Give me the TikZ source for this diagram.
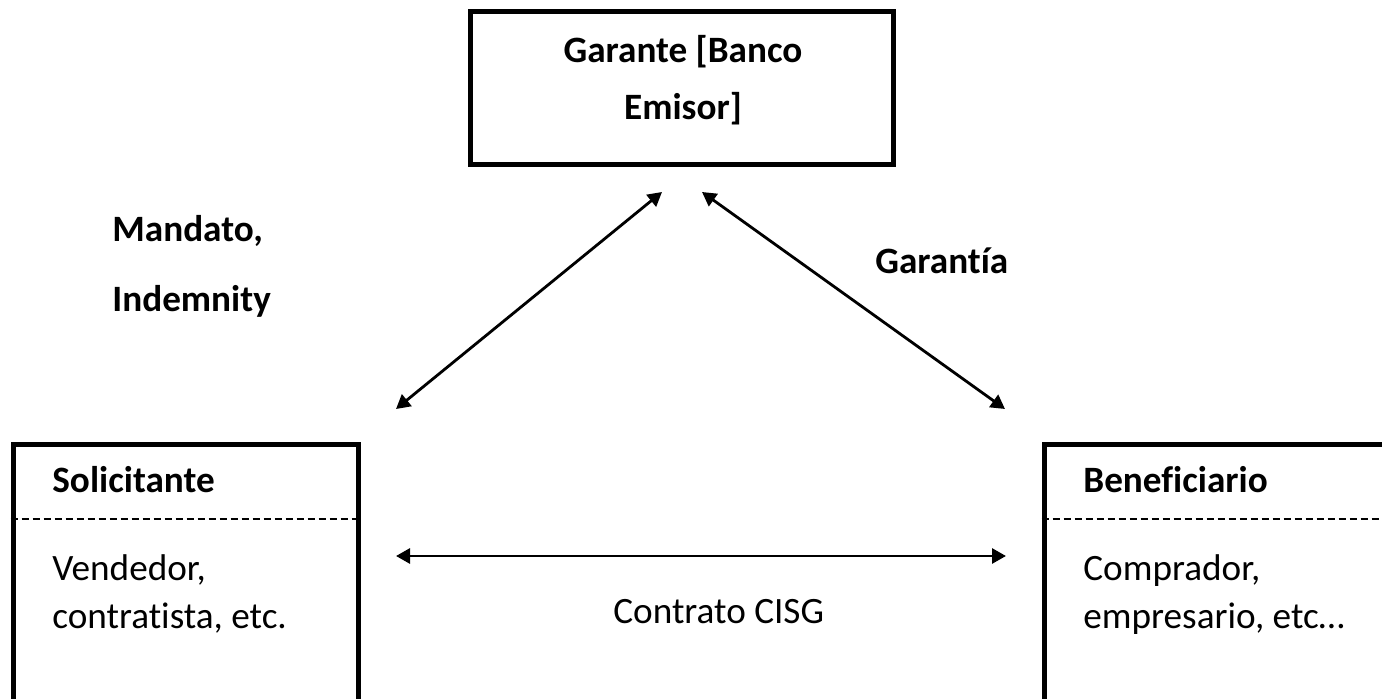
\documentclass[tikz,border=0pt]{standalone}
\usepackage{fontspec}
\setmainfont[Ligatures=NoCommon]{Carlito}
\usetikzlibrary{arrows.meta}

\tikzset{
  box/.style={draw, line width=2.5pt, inner sep=0pt},
  divider/.style={dash pattern=on 3.5pt off 2pt, line width=0.6pt},
  link/.style={{Triangle[length=7pt,width=7.5pt]}-{Triangle[length=7pt,width=7.5pt]}, line width=1.4pt},
  title/.style={font=\fontsize{18.6}{22}\selectfont\bfseries, inner sep=0pt, anchor=base west},
  plain/.style={font=\fontsize{18.6}{22}\selectfont, inner sep=0pt, anchor=base west},
}

\begin{document}
\begin{tikzpicture}[x=0.5pt, y=-0.5pt]
            \useasboundingbox (0,0) rectangle (1382,699);
            \clip (0,0) rectangle (1382,699);

            % the three parties
            \node[box, minimum width=211.5pt, minimum height=76.5pt] (garante) at (681.5,88.5) {};
                \node[title, anchor=base] (garanteA) at (683,63) {Garante [Banco};
                \node[title, anchor=base] (garanteB) at (683,120) {Emisor]};
            \node[box, minimum width=172.5pt, minimum height=157.5pt] (solic) at (185.5,602.5) {};
                \node[title] (solicT) at (52,493) {Solicitante};
                \node[plain] (solicA) at (52,581) {Vendedor,};
                \node[plain] (solicB) at (52,629) {contratista, etc.};
            \node[box, minimum width=193pt, minimum height=157.5pt] (benef) at (1237,602.5) {};
                \node[title] (benefT) at (1083,493) {Beneficiario};
                \node[plain] (benefA) at (1083,581) {Comprador,};
                \node[plain] (benefB) at (1083,629) {empresario, etc…};

            \draw[divider] (solic.west |- 0,519) -- (solic.east |- 0,519);
            \draw[divider] (benef.west |- 0,519) -- (1382,519);

            % arrow ends
            \coordinate (gL) at (662,192);
            \coordinate (sL) at (396,409);
            \coordinate (gR) at (702,192);
            \coordinate (bR) at (1005,409);
            \coordinate (sC) at (396,556);
            \coordinate (bC) at (1006,556);

            \draw[link] (sL) -- (gL);
            \draw[link] (gR) -- (bR);
            \draw[link] (sC) -- (bC);

            \node[title] (mandato) at (112,242) {Mandato,};
            \node[title] (indemn) at (112,312) {Indemnity};
            \node[title] (garantia) at (875,274) {Garantía};
            \node[plain] (cisg) at (613,624) {Contrato CISG};
\end{tikzpicture}
\end{document}
